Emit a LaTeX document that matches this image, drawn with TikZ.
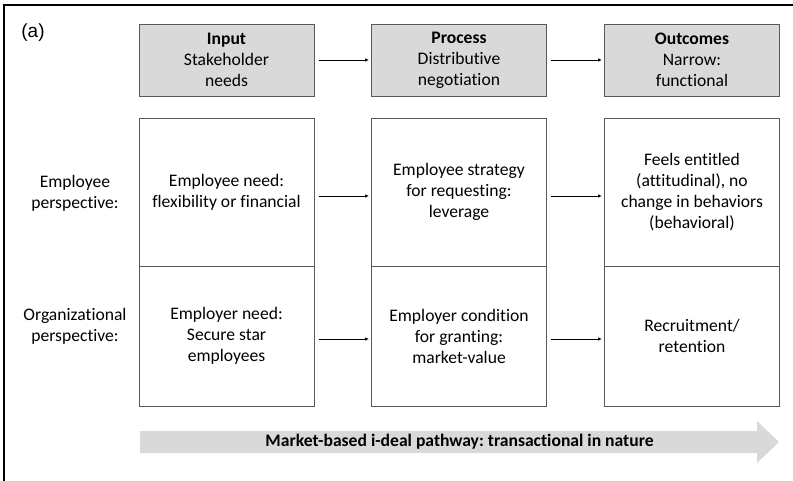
\documentclass[tikz,border=0pt]{standalone}
\usepackage{fontspec}
\setmainfont[Ligatures=NoCommon]{Carlito}
\newfontfamily\labelfont{Liberation Sans}
\usetikzlibrary{arrows.meta}
\frenchspacing

\definecolor{headgray}{HTML}{D9D9D9}
\definecolor{linegray}{HTML}{595959}

\tikzset{
    headbox/.style={draw=linegray, fill=headgray, line width=1pt,
        minimum width=175pt, minimum height=72pt, align=center,
        inner sep=0pt},
    cellbox/.style={draw=linegray, line width=1pt,
        minimum width=175pt, align=center, inner sep=0pt},
    sidetext/.style={align=center, inner sep=0pt},
    link/.style={-{Latex[length=4pt,width=3.5pt]}, line width=0.9pt,
        shorten <=4pt, shorten >=2pt}
}

\begin{document}
\begin{tikzpicture}[x=1pt, y=-1pt, font=\fontsize{17.6}{21}\selectfont]

    \useasboundingbox (0,0) rectangle (793,480);
    \clip (0,0) rectangle (793,480);

    % Outer frame (runs off the page)
    \draw[line width=1.3pt] (4,5) rectangle (810,500);
    \node[inner sep=0pt, font=\labelfont\fontsize{19}{21}\selectfont] (tag) at (33,33) {(a)};

    % Header row
    \node[headbox] (input) at (226.5,60) {\textbf{Input}\\Stakeholder\\needs};
    \node[headbox] (process) at (459,60) {\textbf{Process}\\Distributive\\negotiation};
    \node[headbox] (outcome) at (692,60) {\textbf{Outcomes}\\Narrow:\\functional};

    % Employee row
    \node[cellbox, minimum height=148pt] (empneed) at (226.5,192) {Employee need:\\flexibility or financial};
    \node[cellbox, minimum height=148pt] (empstrat) at (459,192) {Employee strategy\\for requesting:\\leverage};
    \node[cellbox, minimum height=148pt] (empout) at (692,192) {Feels entitled\\(attitudinal), no\\change in behaviors\\(behavioral)};

    % Organizational row
    \node[cellbox, minimum height=140pt] (orgneed) at (226.5,336) {Employer need:\\Secure star\\employees};
    \node[cellbox, minimum height=140pt] (orgcond) at (459,336) {Employer condition\\for granting:\\market-value};
    \node[cellbox, minimum height=140pt] (orgout) at (692,336) {Recruitment/\\retention};

    % Row labels
    \node[sidetext] (emplabel) at (75,193) {Employee\\perspective:};
    \node[sidetext] (orglabel) at (75,326) {Organizational\\perspective:};

    % Connectors
    \draw[link] (input) -- (process);
    \draw[link] (process) -- (outcome);
    \draw[link] ([yshift=-4pt]empneed.east) -- ([yshift=-4pt]empstrat.west);
    \draw[link] ([yshift=-4pt]empstrat.east) -- ([yshift=-4pt]empout.west);
    \draw[link] ([yshift=-3pt]orgneed.east) -- ([yshift=-3pt]orgcond.west);
    \draw[link] ([yshift=-3pt]orgcond.east) -- ([yshift=-3pt]orgout.west);

    % Pathway arrow
    \fill[headgray] (140,431) -- (757,431) -- (757,421) -- (779,442)
        -- (757,463) -- (757,453) -- (140,453) -- cycle;
    \node[font=\bfseries\fontsize{17.6}{21}\selectfont] (pathtext) at (459.5,442) {Market-based i-deal pathway: transactional in nature};

\end{tikzpicture}
\end{document}
